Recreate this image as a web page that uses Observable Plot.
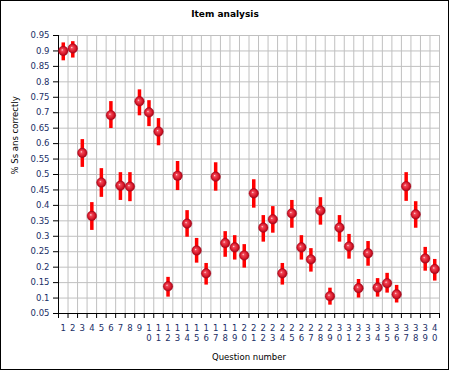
<!DOCTYPE html>
<html>
<head>
<meta charset="utf-8">
<script src="https://cdn.jsdelivr.net/npm/d3@7"></script>
<script src="https://cdn.jsdelivr.net/npm/@observablehq/plot@0.6"></script>
<style>
  html, body { margin: 0; padding: 0; background: #fff; }
  svg { display: block; }
</style>
</head>
<body>
<div id="chart"></div>
<script>
// Question numbers
const questions = [1,2,3,4,5,6,7,8,9,10,11,12,13,14,15,16,17,18,19,20,21,22,23,24,25,26,27,28,29,30,31,32,33,34,35,36,37,38,39,40];
// Proportion of students answering correctly
const pct  = [0.900,0.908,0.570,0.366,0.474,0.692,0.464,0.461,0.737,0.701,0.639,0.138,0.496,0.341,0.254,0.180,0.493,0.278,0.264,0.238,0.439,0.328,0.355,0.180,0.374,0.264,0.225,0.383,0.106,0.328,0.267,0.132,0.245,0.134,0.148,0.112,0.462,0.371,0.228,0.194];
// Error bar lower / upper ends
const low  = [0.868,0.877,0.523,0.319,0.426,0.649,0.416,0.412,0.690,0.655,0.593,0.103,0.448,0.297,0.213,0.142,0.446,0.232,0.223,0.197,0.391,0.281,0.310,0.142,0.326,0.223,0.184,0.336,0.077,0.281,0.226,0.100,0.203,0.103,0.116,0.084,0.413,0.326,0.187,0.155];
const high = [0.926,0.930,0.613,0.409,0.519,0.736,0.506,0.506,0.774,0.739,0.681,0.167,0.542,0.383,0.293,0.212,0.538,0.315,0.302,0.273,0.483,0.367,0.396,0.212,0.416,0.302,0.260,0.425,0.132,0.367,0.306,0.160,0.283,0.163,0.180,0.141,0.506,0.412,0.264,0.225];
// Y tick values
const yTicks = [0.05,0.1,0.15,0.2,0.25,0.3,0.35,0.4,0.45,0.5,0.55,0.6,0.65,0.7,0.75,0.8,0.85,0.9,0.95];
const yTickLabels = ["0.05","0.1","0.15","0.2","0.25","0.3","0.35","0.4","0.45","0.5","0.55","0.6","0.65","0.7","0.75","0.8","0.85","0.9","0.95"];

const titleText = "Item analysis";
const xLabel = "Question number";
const yLabel = "% Ss ans correctly";

const data = questions.map((q, i) => ({q, p: pct[i], lo: low[i], hi: high[i]}));
const xDomain = [questions[0] - 0.5, questions[questions.length - 1] + 0.5];
const xBounds = [...questions.map(q => q - 0.5), xDomain[1]];

const font = "'DejaVu Sans', Verdana, sans-serif";
const gridColor = "#c0c0c0";

const chart = Plot.plot({
  width: 449,
  height: 370,
  marginLeft: 58,
  marginRight: 10,
  marginTop: 35,
  marginBottom: 57,
  style: {fontFamily: font, fontSize: "8.5px", background: "#fff", color: "#000", overflow: "visible"},
  x: {domain: xDomain, axis: null},
  y: {domain: [yTicks[0], yTicks[yTicks.length - 1]], axis: null},
  marks: [
    Plot.gridY({ticks: yTicks, stroke: gridColor, strokeOpacity: 1}),
    Plot.gridX({ticks: xBounds, stroke: gridColor, strokeOpacity: 1}),
    // y axis ticks + labels
    Plot.axisY({ticks: yTicks, tickSize: 5, tickPadding: 4, tickFormat: (d) => yTickLabels[yTicks.indexOf(d)], label: null, fill: "#1a2e66", fontSize: 8.5}),
    // x axis tick marks at band boundaries
    Plot.axisX({ticks: xBounds, tickSize: 5, tickFormat: () => "", label: null}),
    // x axis labels (digits stacked vertically)
    Plot.axisX({ticks: questions, tickSize: 0, tickPadding: 10, lineHeight: 1.18, tickFormat: (d) => String(d).split("").join("\n"), label: null, fill: "#1a2e66", fontSize: 8.5}),
    Plot.ruleX([xDomain[0]], {stroke: "#000"}),
    Plot.ruleY([yTicks[0]], {stroke: "#000"}),
    // error bars
    Plot.ruleX(data, {x: "q", y1: "lo", y2: "hi", stroke: "#ff0000", strokeWidth: 3.5, strokeLinecap: "butt"}),
    // points
    Plot.dot(data, {x: "q", y: "p", r: 4.8, fill: "url(#sphere)", stroke: "#b00018", strokeWidth: 0.4}),
    // titles
    Plot.text([titleText], {frameAnchor: "top", dx: -24, dy: -25, fontWeight: "bold", fontSize: 9, fill: "#000"}),
    Plot.text([xLabel], {frameAnchor: "bottom", dy: 46, fontSize: 8.5, fill: "#000"}),
    Plot.text([yLabel], {frameAnchor: "left", dx: -43, rotate: -90, fontSize: 8.5, fill: "#000"})
  ]
});

const svg = d3.select(chart);
const defs = svg.insert("defs", ":first-child");
const g = defs.append("radialGradient").attr("id", "sphere")
  .attr("cx", "50%").attr("cy", "50%").attr("r", "55%")
  .attr("fx", "38%").attr("fy", "38%");
g.append("stop").attr("offset", "0%").attr("stop-color", "#ffe0e0");
g.append("stop").attr("offset", "22%").attr("stop-color", "#f04858");
g.append("stop").attr("offset", "65%").attr("stop-color", "#d8182a");
g.append("stop").attr("offset", "100%").attr("stop-color", "#8a0010");
svg.append("rect").attr("x", 0.5).attr("y", 0.5).attr("width", 448).attr("height", 369)
  .attr("fill", "none").attr("stroke", "#000");

document.getElementById("chart").appendChild(chart);
</script>
</body>
</html>
